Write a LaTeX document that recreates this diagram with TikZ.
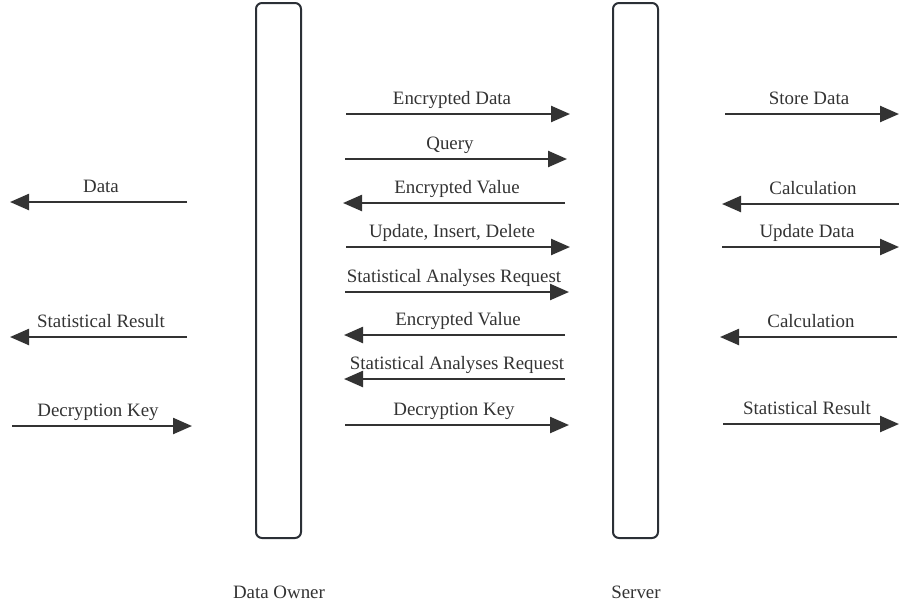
\documentclass[tikz,border=0pt]{standalone}
\usepackage{fontspec}
\setmainfont{Liberation Serif}
\usetikzlibrary{arrows.meta}
\definecolor{ink}{HTML}{333333}
\definecolor{boxc}{HTML}{2B2F36}
\begin{document}
\begin{tikzpicture}[x=1pt,y=-1pt,
  lifeline/.style={draw=boxc,line width=2pt,rounded corners=6pt},
  msg/.style={draw=ink,line width=2.4pt,-{Triangle[length=19pt,width=16pt]}},
  lbl/.style={text=ink,font=\fontsize{18.9}{22}\selectfont,anchor=base,inner sep=0pt},
  actorname/.style={text=ink,font=\fontsize{18.9}{22}\selectfont,anchor=base,inner sep=0pt}]
\useasboundingbox (0,0) rectangle (899,606);
% lifelines
\draw[lifeline] (256,3) rectangle (301,538);
\draw[lifeline] (613,3) rectangle (658,538);
\node[actorname] (owner) at (279,598) {Data Owner};
\node[actorname] (server) at (636,598) {Server};
% arrow endpoints
\newcommand\msgarrow[7]{% name, x1, x2, y, labelx, text, offset
  \coordinate (#1a) at (#2,#4);
  \coordinate (#1b) at (#3,#4);
  \node[lbl] (#1t) at (#5,#4-#7) {#6};
  \draw[msg] (#1a) -- (#1b);}
% left column
\msgarrow{l1}{187}{10}{202}{101}{Data}{10}
\msgarrow{l2}{187}{10}{337}{101}{Statistical Result}{10}
\msgarrow{l3}{12}{192}{426}{98}{Decryption Key}{10}
% middle column
\msgarrow{m1}{346}{570}{114}{452}{Encrypted Data}{10}
\msgarrow{m2}{345}{567}{159}{450}{Query}{10}
\msgarrow{m3}{565}{343}{203}{457}{Encrypted Value}{10}
\msgarrow{m4}{346}{570}{247}{452}{Update, Insert, Delete}{10}
\msgarrow{m5}{345}{569}{292}{454}{Statistical Analyses Request}{10}
\msgarrow{m6}{565}{344}{335}{458}{Encrypted Value}{10}
\msgarrow{m7}{565}{344}{379}{457}{Statistical Analyses Request}{10}
\msgarrow{m8}{345}{569}{425}{454}{Decryption Key}{10}
% right column
\msgarrow{r1}{725}{899}{114}{809}{Store Data}{10}
\msgarrow{r2}{899}{722}{204}{813}{Calculation}{10}
\msgarrow{r3}{722}{899}{247}{807}{Update Data}{10}
\msgarrow{r4}{897}{720}{337}{811}{Calculation}{10}
\msgarrow{r5}{723}{899}{424}{807}{Statistical Result}{10}
\end{tikzpicture}
\end{document}
